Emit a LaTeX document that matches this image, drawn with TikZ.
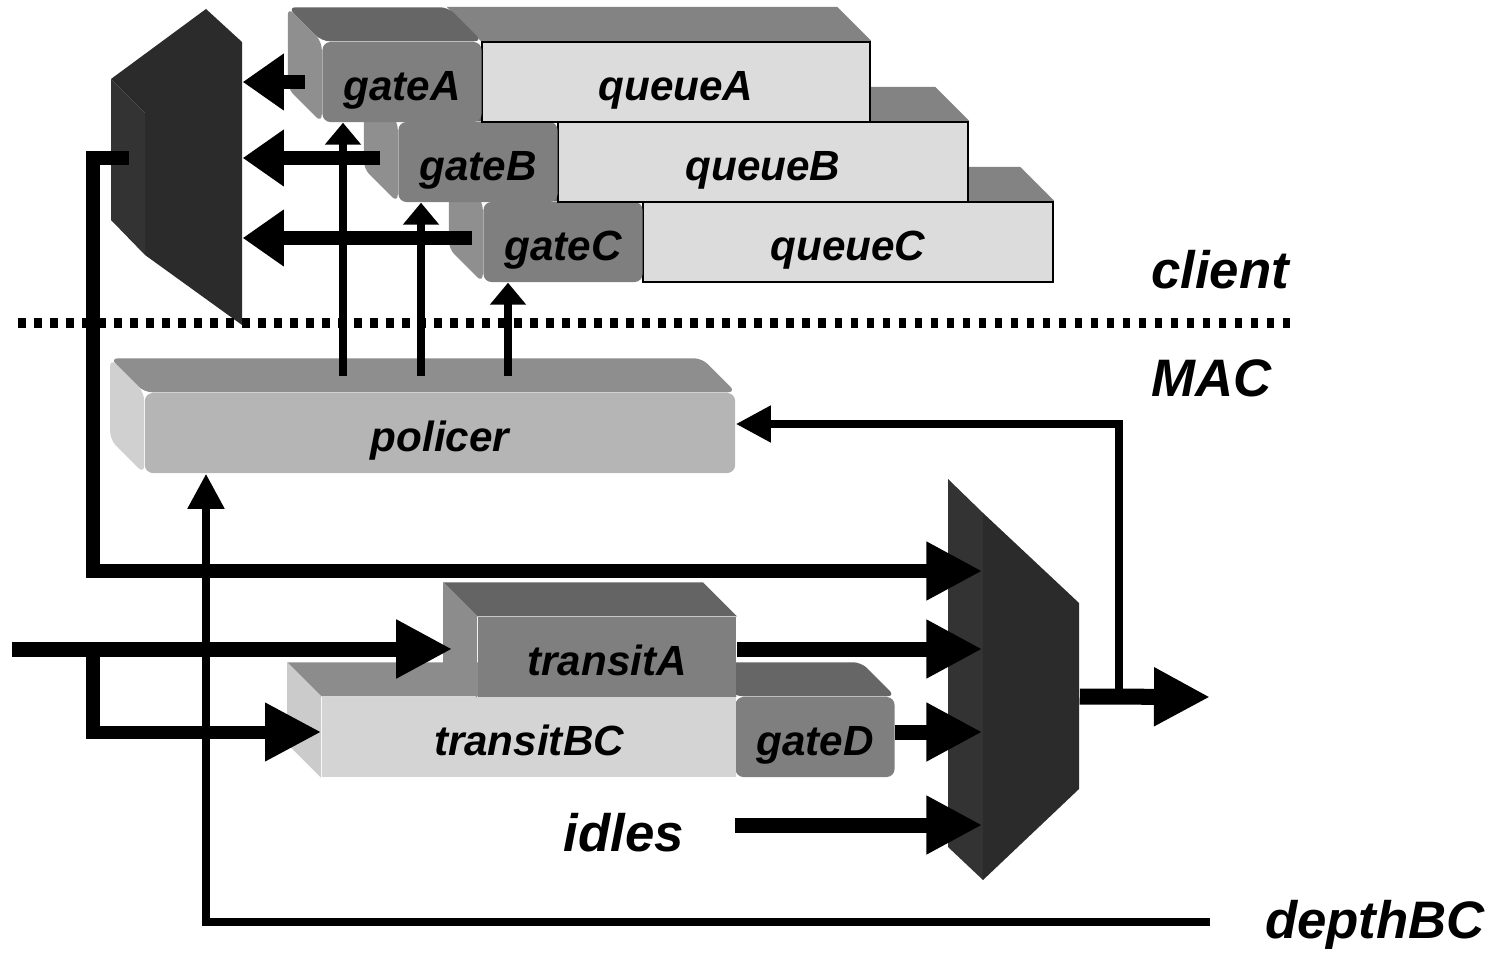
\documentclass[tikz,border=0pt]{standalone}
\usepackage{fontspec}
\setmainfont{Liberation Sans}
\usetikzlibrary{calc,arrows.meta}

\definecolor{gatefront}{HTML}{7F7F7F}
\definecolor{gatetop}{HTML}{666666}
\definecolor{gateside}{HTML}{8F8F8F}
\definecolor{queuefront}{HTML}{DCDCDC}
\definecolor{queuetop}{HTML}{838383}
\definecolor{polfront}{HTML}{B5B5B5}
\definecolor{poltop}{HTML}{8E8E8E}
\definecolor{polside}{HTML}{D0D0D0}
\definecolor{tafront}{HTML}{7F7F7F}
\definecolor{tatop}{HTML}{646464}
\definecolor{taside}{HTML}{8C8C8C}
\definecolor{tbcfront}{HTML}{D4D4D4}
\definecolor{tbctop}{HTML}{8C8C8C}
\definecolor{tbcside}{HTML}{CBCBCB}
\definecolor{muxfront}{HTML}{2B2B2B}
\definecolor{muxside}{HTML}{333333}

\begin{document}
\begin{tikzpicture}[x=0.01cm, y=-0.01cm,
            lbl/.style={
              font=\fontsize{12}{14}\selectfont\bfseries\itshape
            },
            biglbl/.style={
              font=\fontsize{15}{18}\selectfont\bfseries\itshape
            },
            blk/.style={
              lbl, inner sep=0, minimum height=0.8cm,
              text height=0.36cm, text depth=0cm
            },
            gatebox/.style={blk, fill=gatefront, rounded corners=0.08cm, minimum width=1.59cm},
            queuebox/.style={blk, fill=queuefront, draw=black, line width=0.6pt},
            bigarr/.style={line width=0.15cm, -{Triangle[length=0.56cm, width=0.55cm]}},
            midarr/.style={line width=0.14cm, -{Triangle[length=0.41cm, width=0.54cm]}},
            thinarr/.style={line width=0.08cm, -{Triangle[length=0.35cm, width=0.35cm]}},
            uparr/.style={line width=0.08cm, -{Triangle[length=0.22cm, width=0.35cm]}}
        ]
\useasboundingbox (0,0) rectangle (1498,952);
\def\dep{34}
\def\topface#1#2{\fill[#2] (#1.north west) -- ++(-\dep,-\dep) -- ($(#1.north east)+(-\dep,-\dep)$) -- (#1.north east) -- cycle;}
\def\sideface#1#2{\fill[#2] (#1.north west) -- ++(-\dep,-\dep) -- ($(#1.south west)+(-\dep,-\dep)$) -- (#1.south west) -- cycle;}

% left mux
\node[inner sep=0, minimum width=0.97cm, minimum height=2.83cm] (demux) at (193.5,183.5) {};
\fill[muxside] (111,79) -- (145,113) -- (145,255) -- (111,220) -- cycle;
\fill[muxfront] (111,79) -- (206,9) -- (242,42) -- (242,325) -- (145,255) -- (145,113) -- cycle;

% client queues, back row first
\node[queuebox, minimum width=4.1cm] (queueC) at (848,242) {queueC};
\topface{queueC}{queuetop}
\node[gatebox] (gateC) at (563,242) {gateC};
\topface{gateC}{gatetop, rounded corners=0.08cm}
\sideface{gateC}{gateside, rounded corners=0.08cm}

\node[queuebox, minimum width=4.1cm] (queueB) at (763,162) {queueB};
\topface{queueB}{queuetop}
\node[gatebox] (gateB) at (478,162) {gateB};
\topface{gateB}{gatetop, rounded corners=0.08cm}
\sideface{gateB}{gateside, rounded corners=0.08cm}

\node[queuebox, minimum width=3.88cm] (queueA) at (676,82) {queueA};
\topface{queueA}{queuetop}
\node[gatebox] (gateA) at (402,82) {gateA};
\topface{gateA}{gatetop, rounded corners=0.08cm}
\sideface{gateA}{gateside, rounded corners=0.08cm}

% MAC side
\node[blk, fill=polfront, rounded corners=0.08cm, minimum width=5.9cm] (policer) at (440,433) {policer};
\topface{policer}{poltop, rounded corners=0.08cm}
\sideface{policer}{polside, rounded corners=0.08cm}

\node[gatebox] (gateD) at (815,737) {gateD};
\topface{gateD}{gatetop, rounded corners=0.08cm}
\node[blk, fill=tbcfront, minimum width=4.14cm] (transitBC) at (529,737) {transitBC};
\topface{transitBC}{tbctop}
\sideface{transitBC}{tbcside}
\node[blk, fill=tafront, minimum width=2.58cm] (transitA) at (607,657) {transitA};
\topface{transitA}{tatop}
\sideface{transitA}{taside}

% right mux
\node[inner sep=0, minimum width=0.96cm, minimum height=3.67cm] (mux) at (1031,696.5) {};
\fill[muxside] (948,479) -- (983,513) -- (983,880) -- (948,847) -- cycle;
\fill[muxfront] (983,513) -- (1079,603) -- (1079,789) -- (983,880) -- cycle;

% client / MAC border
\draw[line width=0.1cm, dash pattern=on 0.075cm off 0.085cm] (18,323) -- (1290,323);

% gates into left mux
\draw[midarr] ($(gateA.west)+(-17,0)$) -- (gateA.west -| demux.east);
\draw[midarr] ($(gateB.west)+(-18,-4)$) -- ($(gateB.west -| demux.east)+(0,-4)$);
\draw[midarr] ($(gateC.west)+(-11,-4)$) -- ($(gateC.west -| demux.east)+(0,-4)$);

% policer to gates
\coordinate (pA) at (343,376);
\coordinate (pB) at (421,376);
\coordinate (pC) at (508,376);
\draw[uparr] (pA) -- (pA |- gateA.south);
\draw[uparr] (pB) -- (pB |- gateB.south);
\draw[uparr] (pC) -- (pC |- gateC.south);

% left mux back down to right mux
\coordinate (fb) at (129,158);
\coordinate (fbdown) at (93,571);
\draw[bigarr, line width=0.14cm] (fb) -- (fb -| fbdown) -- (fbdown) -- (fbdown -| mux.west);

% transit inputs
\coordinate (in) at (12,649);
\coordinate (split) at (93,649);
\coordinate (split2) at (93,732);
\draw[bigarr] (in) -- ($(in -| transitA.west)+(-25,0)$);
\draw[bigarr, line width=0.13cm] (split) -- (split2) -- (split2 -| transitBC.west);

% into right mux
\draw[bigarr] (transitA.east |- in) -- (in -| mux.west);
\draw[bigarr] (gateD.east |- split2) -- (split2 -| mux.west);
\node[biglbl] (idles) at (624,833) {idles};
\coordinate (idl) at (735,825);
\draw[bigarr] (idl) -- (idl -| mux.west);

% output and feedback
\coordinate (out) at (1210,697);
\coordinate (tap) at (1119,697);
\coordinate (tapup) at (1119,424);
\draw[bigarr, line width=0.16cm] (mux.east) -- (out);
\draw[thinarr] (tap) -- (tapup) -- (tapup -| policer.east);

% depthBC
\coordinate (dbc) at (1210,922);
\coordinate (dbcturn) at (206,922);
\draw[thinarr] (dbc) -- (dbcturn) -- (dbcturn |- policer.south);

\node[biglbl] (client) at (1220,270) {client};
\node[biglbl] (mac) at (1212,378) {MAC};
\node[biglbl] (depthlbl) at (1375,925) {depthBC};

\end{tikzpicture}
\end{document}
